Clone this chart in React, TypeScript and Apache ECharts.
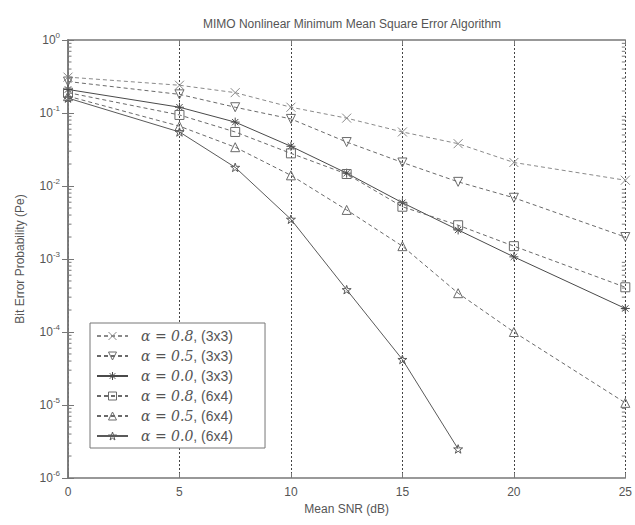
import React, { useEffect, useRef } from "react";
import * as echarts from "echarts";

const snr = [0, 5, 7.5, 10, 12.5, 15, 17.5, 20, 25];
const a08_3x3 = [0.31, 0.24, 0.19, 0.12, 0.085, 0.055, 0.038, 0.021, 0.012];
const a05_3x3 = [0.27, 0.18, 0.12, 0.083, 0.04, 0.021, 0.0114, 0.0069, 0.002];
const a00_3x3 = [0.21, 0.12, 0.075, 0.035, 0.015, 0.0059, 0.0025, 0.00107, 0.00021];
const a08_6x4 = [0.19, 0.094, 0.055, 0.028, 0.0146, 0.0052, 0.0029, 0.0015, 0.00041];
const a05_6x4 = [0.17, 0.066, 0.034, 0.014, 0.0047, 0.0015, 0.00034, 0.0001, 0.0000107];
const a00_6x4 = [0.16, 0.055, 0.018, 0.0035, 0.00038, 0.000042, 0.0000025];

const seriesNames = [
  "α = 0.8, (3x3)",
  "α = 0.5, (3x3)",
  "α = 0.0, (3x3)",
  "α = 0.8, (6x4)",
  "α = 0.5, (6x4)",
  "α = 0.0, (6x4)",
];

const decadeExponents = [-6, -5, -4, -3, -2, -1];
const minorMultipliers = [2, 3, 4, 5, 6, 7, 8, 9];

const TITLE = "MIMO Nonlinear Minimum Mean Square Error Algorithm";
const X_NAME = "Mean SNR (dB)";
const Y_NAME = "Bit Error Probability (Pe)";

const CROSS = "path://M0,0L10,10M10,0L0,10";
const ASTER = "path://M5,0L5,10M0,5L10,5M1.5,1.5L8.5,8.5M8.5,1.5L1.5,8.5";
const STAR =
  "path://M5,0L6.2,3.6L10,3.6L6.9,5.9L8.1,9.5L5,7.3L1.9,9.5L3.1,5.9L0,3.6L3.8,3.6Z";

const FONT = "Liberation Sans, Arial, sans-serif";

function pairs(ys: number[]) {
  return ys.map((y, i) => [snr[i], y]);
}

export default function App() {
  const ref = useRef<HTMLDivElement>(null);
  useEffect(() => {
    if (!ref.current) return;
    document.body.style.margin = "0";
    const chart = echarts.init(ref.current, undefined, { renderer: "svg" });

    const lightColor = "#8a8a8a";
    const dashedColor = "#6a6a6a";
    const solidColor = "#4a4a4a";
    const TRANSP = "rgba(0,0,0,0)";

    const styles = [
      { symbol: CROSS, dashed: true, color: lightColor, rotate: 0 },
      { symbol: "triangle", dashed: true, color: dashedColor, rotate: 180 },
      { symbol: ASTER, dashed: false, color: solidColor, rotate: 0 },
      { symbol: "rect", dashed: true, color: dashedColor, rotate: 0 },
      { symbol: "triangle", dashed: true, color: dashedColor, rotate: 0 },
      { symbol: STAR, dashed: false, color: "#5a5a5a", rotate: 0 },
    ];
    const dataSets = [a08_3x3, a05_3x3, a00_3x3, a08_6x4, a05_6x4, a00_6x4];

    const lineSeries = dataSets.map((d, i) => ({
      name: seriesNames[i],
      type: "line",
      data: pairs(d),
      symbol: styles[i].symbol,
      symbolRotate: styles[i].rotate,
      symbolSize: 9,
      symbolKeepAspect: true,
      showAllSymbol: true,
      clip: false,
      lineStyle: {
        color: styles[i].color,
        width: 1,
        type: styles[i].dashed ? [4, 3] : "solid",
      },
      itemStyle: { color: TRANSP, borderColor: styles[i].color, borderWidth: 1 },
      emphasis: { disabled: true },
      z: 3,
    }));

    const minorTicks: number[][] = [];
    decadeExponents.forEach((e) =>
      minorMultipliers.forEach((m) => minorTicks.push([0, m * Math.pow(10, e)]))
    );

    const axisGray = "#777";
    const textGray = "#555";

    chart.setOption({
      animation: false,
      title: {
        text: TITLE,
        left: 347,
        textAlign: "center",
        top: 13,
        textStyle: { fontFamily: FONT, fontSize: 12, fontWeight: "normal", color: textGray },
      },
      grid: { left: 68, right: 9, top: 40, bottom: 47 },
      legend: {
        orient: "vertical",
        left: 90,
        top: 323,
        backgroundColor: "#fff",
        borderColor: axisGray,
        borderWidth: 1,
        borderRadius: 0,
        padding: [6, 32, 5, 6],
        itemWidth: 31,
        itemHeight: 10,
        itemGap: 6,
        data: seriesNames.map((n, i) => ({
          name: n,
          itemStyle: { color: TRANSP, borderColor: styles[i].color, borderWidth: 1 },
        })),
        formatter: (n: string) => {
          const idx = n.indexOf(",");
          return `{i|${n.slice(0, idx)}}{t|${n.slice(idx)}}`;
        },
        textStyle: {
          fontFamily: FONT,
          fontSize: 14,
          color: textGray,
          rich: {
            i: {
              fontFamily: "DejaVu Serif, serif",
              fontStyle: "italic",
              fontSize: 14,
              color: textGray,
              padding: [0, 0, 0, 8],
            },
            t: { fontFamily: FONT, fontSize: 14, color: textGray },
          },
        },
      },
      xAxis: [
        {
          type: "value",
          min: 0,
          max: 25,
          interval: 5,
          name: X_NAME,
          nameLocation: "middle",
          nameGap: 24,
          nameTextStyle: { fontFamily: FONT, fontSize: 12, color: textGray },
          axisLine: { lineStyle: { color: axisGray, width: 1.5 } },
          axisTick: { inside: true, length: 5, lineStyle: { color: axisGray } },
          axisLabel: {
            fontFamily: FONT,
            fontSize: 12,
            color: textGray,
            margin: 8,
            showMaxLabel: true,
            showMinLabel: true,
          },
          splitLine: { show: true, lineStyle: { color: "#444", type: [2, 2], width: 1 } },
        },
        {
          type: "value",
          position: "top",
          min: 0,
          max: 25,
          interval: 5,
          axisLine: { lineStyle: { color: axisGray, width: 1.5 } },
          axisTick: { show: true, inside: true, length: 5, lineStyle: { color: axisGray } },
          axisLabel: { show: false },
          splitLine: { show: false },
        },
      ],
      yAxis: [
        {
          type: "log",
          logBase: 10,
          min: 1e-6,
          max: 1,
          name: Y_NAME,
          nameLocation: "middle",
          nameGap: 42,
          nameTextStyle: { fontFamily: FONT, fontSize: 12, color: textGray },
          axisLine: { lineStyle: { color: axisGray, width: 1.5 } },
          axisTick: { inside: true, length: 6, lineStyle: { color: axisGray } },
          splitLine: { show: false },
          axisLabel: {
            margin: 8,
            formatter: (v: number) => {
              const e = Math.round(Math.log10(v));
              return `{b|10}{s|${e}}`;
            },
            rich: {
              b: { fontFamily: FONT, fontSize: 12, color: textGray },
              s: { fontFamily: FONT, fontSize: 8, color: textGray, padding: [0, 0, 9, 0] },
            },
          },
        },
        {
          type: "log",
          logBase: 10,
          min: 1e-6,
          max: 1,
          position: "right",
          axisLine: { lineStyle: { color: axisGray, width: 1.5 } },
          axisTick: { show: true, inside: true, length: 6, lineStyle: { color: axisGray } },
          axisLabel: { show: false },
          splitLine: { show: false },
        },
      ],
      series: [
        {
          type: "custom",
          silent: true,
          clip: false,
          z: 1,
          data: minorTicks,
          encode: { x: 0, y: 1 },
          renderItem: (params: any, api: any) => {
            const v = api.value(1);
            const l = api.coord([0, v]);
            const r = api.coord([25, v]);
            const st = { stroke: axisGray, lineWidth: 1 };
            return {
              type: "group",
              children: [
                { type: "line", shape: { x1: l[0], y1: l[1], x2: l[0] + 3.5, y2: l[1] }, style: st },
                { type: "line", shape: { x1: r[0], y1: r[1], x2: r[0] - 3.5, y2: r[1] }, style: st },
              ],
            };
          },
        },
        ...lineSeries,
      ],
    });
    return () => chart.dispose();
  }, []);
  return <div ref={ref} style={{ width: 635, height: 525 }} />;
}
